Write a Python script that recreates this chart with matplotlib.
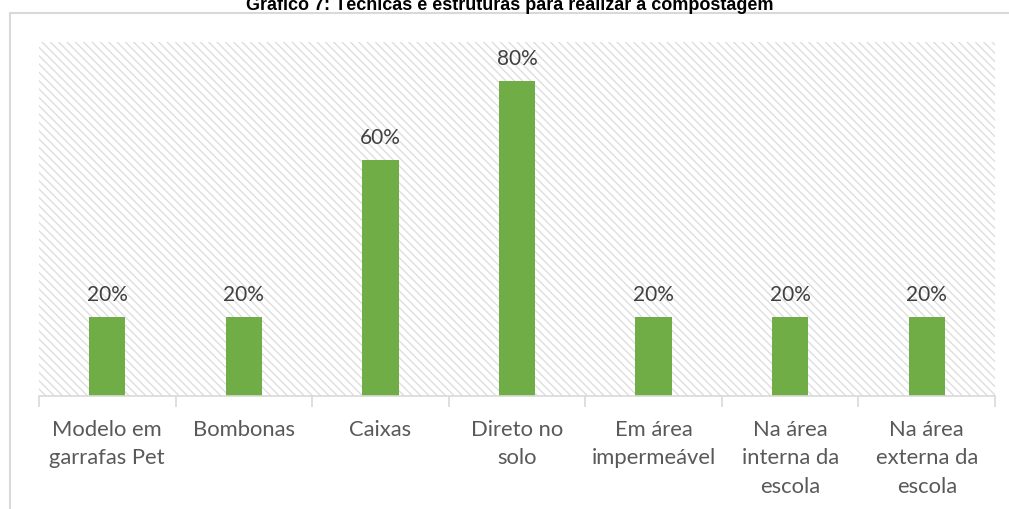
import matplotlib
matplotlib.use("Agg")
import matplotlib.pyplot as plt
from matplotlib.patches import Rectangle
from matplotlib.lines import Line2D
import numpy as np

title = "Gráfico 7: Técnicas e estruturas para realizar a compostagem"
categories = ["Modelo em\ngarrafas Pet", "Bombonas", "Caixas", "Direto no\nsolo",
              "Em área\nimpermeável", "Na área\ninterna da\nescola", "Na área\nexterna da\nescola"]
values = [20, 20, 60, 80, 20, 20, 20]
labels = ["20%", "20%", "60%", "80%", "20%", "20%", "20%"]

plt.rcParams['font.family'] = ['Lato', 'DejaVu Sans']
plt.rcParams['hatch.linewidth'] = 1.0
W, H = 1009, 509
fig = plt.figure(figsize=(W / 100, H / 100), dpi=100)

# outer chart frame (left and top edges only visible)
fx, fy = 9.5 / W, 1 - 12.5 / H
fig.add_artist(Line2D([fx, 1.01], [fy, fy], transform=fig.transFigure,
                      color="#d9d9d9", linewidth=1.5))
fig.add_artist(Line2D([fx, fx], [-0.01, fy], transform=fig.transFigure,
                      color="#d9d9d9", linewidth=1.5))

ax = fig.add_axes([39 / W, 1 - 396 / H, (995 - 39) / W, (396 - 42) / H])
ax.set_facecolor("white")
ax.add_patch(Rectangle((0, 0), 1, 1, transform=ax.transAxes, facecolor="white",
                       edgecolor="#dedede", hatch="\\" * 4, linewidth=0, zorder=0))

x = np.arange(len(categories))
ax.bar(x, values, width=0.265, color="#70ad47", zorder=2)
for xi, v, lab in zip(x, values, labels):
    ax.annotate(lab, (xi, v), xytext=(0, 9), textcoords="offset points",
                ha="center", va="bottom", fontsize=15, color="#404040")

ax.set_xlim(-0.5, len(categories) - 0.5)
ax.set_ylim(0, 90)
ax.set_yticks([])
ax.set_xticks(x)
ax.set_xticklabels(categories, fontsize=15.8, color="#595959", linespacing=1.55)
ax.tick_params(axis="x", which="major", length=0, pad=17)
ax.set_xticks(np.arange(-0.5, len(categories)), minor=True)
ax.tick_params(axis="x", which="minor", length=8, color="#d9d9d9", width=1.2)
for s in ["top", "right", "left"]:
    ax.spines[s].set_visible(False)
ax.spines["bottom"].set_color("#d9d9d9")
ax.spines["bottom"].set_linewidth(1.2)

fig.text(0.505, 1 - 10 / H, title, ha="center", va="baseline", fontsize=13,
         fontweight="bold", family="Liberation Sans", color="black")

fig.savefig("out.png", dpi=100)
